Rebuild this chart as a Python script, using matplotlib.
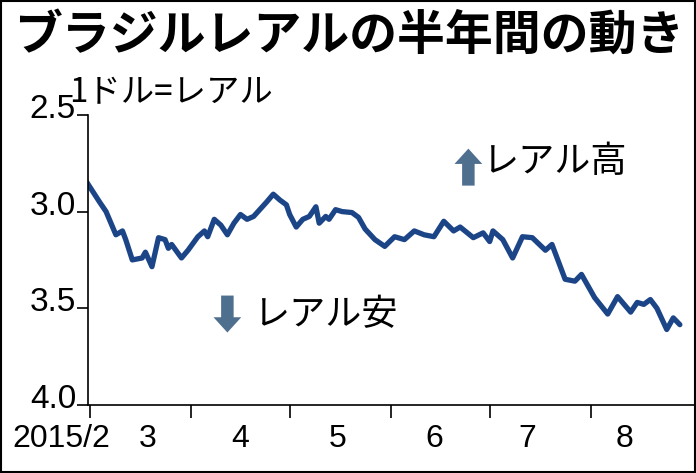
import matplotlib
matplotlib.use("Agg")
import matplotlib.pyplot as plt
from matplotlib.patches import Rectangle
from matplotlib.transforms import offset_copy

plt.rcParams['font.family'] = ['Noto Sans CJK JP', 'DejaVu Sans']

# day offset from 2015-03-01
days = [-1, 3, 5, 8, 10, 11, 13, 16, 17, 19, 21, 23, 24, 25, 28, 30, 33, 35, 36, 38, 40, 42, 44, 46, 48, 50,
        54, 56, 58, 60, 61, 63, 65, 67, 69, 70, 72, 73, 75, 77, 80, 82, 84, 87, 90, 93, 96, 99, 102, 105,
        108, 111, 113, 117, 120, 122, 123, 126, 129, 132, 135, 139, 141, 145, 148, 150, 154, 158, 161,
        165, 167, 169, 171, 173, 176, 178, 180]
rate = [2.845, 2.95, 3.0, 3.12, 3.10, 3.145, 3.25, 3.24, 3.21, 3.285, 3.135, 3.145, 3.19, 3.17, 3.24, 3.20,
        3.13, 3.10, 3.13, 3.04, 3.07, 3.12, 3.06, 3.015, 3.04, 3.025, 2.95, 2.91, 2.94, 2.965, 3.015, 3.08,
        3.04, 3.025, 2.975, 3.06, 3.025, 3.04, 2.99, 3.0, 3.005, 3.03, 3.09, 3.145, 3.18, 3.13, 3.145, 3.10,
        3.12, 3.13, 3.05, 3.10, 3.08, 3.135, 3.11, 3.155, 3.10, 3.145, 3.24, 3.13, 3.135, 3.20, 3.17, 3.35,
        3.36, 3.325, 3.445, 3.53, 3.44, 3.52, 3.47, 3.48, 3.455, 3.50, 3.61, 3.55, 3.585]
month_ticks = [0, 31, 61, 92, 122, 153]
month_label_pos = [-8.5, 17.7, 46, 75.5, 105, 133.6, 163]
month_labels = ['2015/2', '3', '4', '5', '6', '7', '8']
yticks = [2.5, 3.0, 3.5, 4.0]
ytick_labels = ['2.5', '3.0', '3.5', '4.0']

fig = plt.figure(figsize=(6.96, 4.73), dpi=100)
fig.patches.append(Rectangle((0.002, 0.002), 0.996, 0.996, transform=fig.transFigure,
                             fill=False, edgecolor='black', lw=1.5))
ax = fig.add_axes([0.126, 0.144, 0.872, 0.613])
ax.plot(days, rate, color='#1c4587', lw=3.8, solid_joinstyle='round', solid_capstyle='round')
ax.set_xlim(-0.6, 184.5)
ax.set_ylim(4.0, 2.5)
for s in ['top', 'right']:
    ax.spines[s].set_visible(False)
ax.spines['left'].set_linewidth(1.2)
ax.spines['bottom'].set_linewidth(1.2)
ax.set_yticks(yticks)
ax.set_yticklabels([])
ax.tick_params(axis='y', length=8, width=1.2)
ytr = offset_copy(ax.get_yaxis_transform(), fig=fig, x=-4, y=4, units='points')
for v, l in zip(yticks, ytick_labels):
    ax.text(-0.01, v, l, transform=ytr, ha='right', va='center', fontsize=24,
            family='Liberation Sans')
ax.set_xticks(month_ticks)
ax.set_xticklabels([])
ax.tick_params(axis='x', length=9, width=1.2)
for p, l in zip(month_label_pos, month_labels):
    ax.text(p, -0.065, l, transform=ax.get_xaxis_transform(), ha='center', va='top',
            fontsize=23, family='Liberation Sans')

fig.text(0.02, 0.925, 'ブラジルレアルの半年間の動き', fontsize=34.5, fontweight='bold', va='center', ha='left')
fig.text(0.1, 0.805, '1ドル=レアル', fontsize=24, va='center', ha='left')

# arrows
ax.annotate('', xy=(115.5, 2.66), xytext=(115.5, 2.88),
            arrowprops=dict(arrowstyle='simple,head_width=2.0,head_length=1.1,tail_width=0.9',
                            color='#4f6f8f', lw=0))
ax.text(120, 2.745, 'レアル高', fontsize=26, va='center', ha='left')
ax.annotate('', xy=(42, 3.64), xytext=(42, 3.42),
            arrowprops=dict(arrowstyle='simple,head_width=2.0,head_length=1.1,tail_width=0.9',
                            color='#4f6f8f', lw=0))
ax.text(50, 3.535, 'レアル安', fontsize=26, va='center', ha='left')

fig.savefig('out.png', dpi=100)
